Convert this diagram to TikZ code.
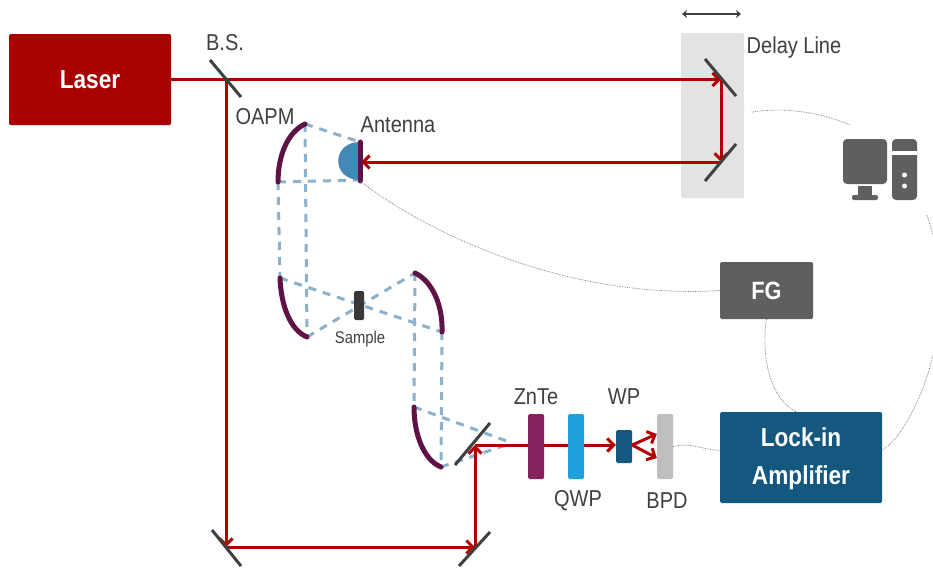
\documentclass[tikz,border=0pt]{standalone}
\usepackage{fontspec}
\setmainfont{Liberation Sans}[FakeStretch=0.87]
\usetikzlibrary{arrows.meta}
\definecolor{beamred}{HTML}{B00000}
\definecolor{oapmpurple}{HTML}{5E1245}
\definecolor{thzblue}{HTML}{8CB1CC}
\definecolor{labelgray}{HTML}{404040}
\definecolor{boxblue}{HTML}{14587F}
\definecolor{boxgray}{HTML}{5F5F5F}
\definecolor{zntepurple}{HTML}{85215F}
\definecolor{qwpblue}{HTML}{1F9FDB}
\definecolor{antennablue}{HTML}{4488B8}
\tikzset{
	beam/.style={draw=beamred, line width=3pt, -{Straight Barb[length=6.5pt,width=13pt,line width=3pt]}},
	thz/.style={draw=thzblue, line width=3pt, dash pattern=on 8pt off 7pt},
	oapm/.style={draw=oapmpurple, line width=5pt, line cap=round},
	mirror/.style={draw=labelgray, line width=3pt},
	cable/.style={draw=black!55, line width=0.7pt, densely dotted},
	tag/.style={text=labelgray, inner sep=0pt, font=\fontsize{23}{26}\selectfont},
	element/.style={rounded corners=1.5pt, inner sep=0pt},
	whitebox/.style={rounded corners=1.5pt, inner sep=0pt, text=white, align=center, font=\fontsize{26}{38}\selectfont\bfseries}
}
\begin{document}
\begin{tikzpicture}[x=1pt, y=-1pt]
		%%%%% FRAME %%%%%
		\useasboundingbox (0, 0) rectangle (933, 570);
		\fill[white] (0, 0) rectangle (933, 570);
		
		\coordinate (bs) at (226, 79.5);
		\coordinate (dlup) at (721, 79.5);
		\coordinate (dldown) at (721, 162);
		\coordinate (mleft) at (226, 547);
		\coordinate (mright) at (475, 547);
		\coordinate (bsout) at (475, 445);
		\coordinate (antennatip) at (361, 162);
		\coordinate (a1) at (305, 124);
		\coordinate (a2) at (278, 182);
		\coordinate (b1) at (280, 278);
		\coordinate (b2) at (307, 337);
		\coordinate (c1) at (415, 273);
		\coordinate (c2) at (442, 332);
		\coordinate (d1) at (414, 407);
		\coordinate (d2) at (441, 467);
		\coordinate (focus) at (512, 443);
		
		%%%%% DELAY LINE BOX %%%%%
		\node[element, fill=black!11, minimum width=63pt, minimum height=165pt] (delay) at (712.5, 115.5) {};
		\draw[labelgray, line width=2pt, {Stealth[length=5pt,width=8pt]}-{Stealth[length=5pt,width=8pt]}] (682, 14) -- (741, 14);
		
		%%%%% THZ PATH %%%%%
		\draw[thz] (a1) -- (360, 142);
		\draw[thz] (a2) -- (360, 180);
		\draw[thz] (a1) -- (b2);
		\draw[thz] (a2) -- (b1);
		\draw[thz] (b1) -- (c2);
		\draw[thz] (b2) -- (c1);
		\draw[thz] (c1) -- (d1);
		\draw[thz] (c2) -- (d2);
		\draw[thz] (d1) -- (focus);
		\draw[thz] (d2) -- (focus);
		
		\draw[oapm] (a1) .. controls (288, 132) and (278, 155) .. (a2);
		\draw[oapm] (b1) .. controls (281, 305) and (290, 330) .. (b2);
		\draw[oapm] (c1) .. controls (432, 281) and (443, 305) .. (c2);
		\draw[oapm] (d1) .. controls (414, 435) and (424, 460) .. (d2);
		
		%%%%% OPTICAL BEAM %%%%%
		\node[element, fill=beamred!96!black, minimum width=162pt, minimum height=91pt, text=white, font=\fontsize{26}{30}\selectfont\bfseries] (laser) at (90, 79.5) {Laser};
		\draw[beam] (laser.east) -- (dlup);
		\draw[beam] (dlup) -- (dldown);
		\draw[beam] (dldown) -- (antennatip);
		\draw[beam] (bs) -- (mleft);
		\draw[beam] (mleft) -- (mright);
		\draw[beam] (mright) -- (bsout);
		
		\node[element, fill=boxblue, minimum width=16pt, minimum height=33pt] (wp) at (624, 446.5) {};
		\draw[beam] (bsout) -- (wp.west |- bsout);
		\node[element, fill=black!25, minimum width=16pt, minimum height=65pt] (bpd) at (665, 446.5) {};
		\draw[beam] (wp.east |- bsout) -- ([yshift=-11.5pt]bpd.west);
		\draw[beam] (wp.east |- bsout) -- ([yshift=12.5pt]bpd.west);
		\node[element, fill=zntepurple, minimum width=16pt, minimum height=65pt] (znte) at (536, 446.5) {};
		\node[element, fill=qwpblue, minimum width=16pt, minimum height=65pt] (qwp) at (576, 446.5) {};
		
		%%%%% MIRRORS %%%%%
		\draw[mirror] (210, 60) -- (241, 97);
		\draw[mirror] (705, 59) -- (736, 96);
		\draw[mirror] (705, 181) -- (736, 144);
		\draw[mirror] (212, 530) -- (241, 566);
		\draw[mirror] (459, 566) -- (490, 532);
		\draw[mirror] (455, 465) -- (490, 423);
		
		%%%%% ANTENNA AND SAMPLE %%%%%
		\fill[antennablue] (360, 142) .. controls (331, 142) and (331, 180) .. (360, 180) -- cycle;
		\draw[oapm] (360, 142) -- (360, 181);
		\node[element, fill=black!78, minimum width=10pt, minimum height=29pt] (sample) at (359, 305.5) {};
		
		%%%%% BOXES %%%%%
		\node[whitebox, fill=boxgray, minimum width=93pt, minimum height=57pt, font=\fontsize{25}{30}\selectfont\bfseries] (fg) at (766.5, 290.5) {FG};
		\node[whitebox, fill=boxblue, minimum width=162pt, minimum height=91pt] (lockin) at (801, 457.5) {};
		\node[whitebox] (lockintext) at (801, 459) {Lock-in\\Amplifier};
		
		%%%%% COMPUTER %%%%%
		\fill[boxgray, rounded corners=4pt] (843, 139) rectangle (887, 184);
		\fill[boxgray] (858, 186) rectangle (872, 195);
		\fill[boxgray, rounded corners=2pt] (852, 195) rectangle (878, 200);
		\fill[boxgray, rounded corners=4pt] (892, 139) rectangle (917, 200);
		\fill[white] (892, 151) rectangle (917, 155);
		\fill[white] (904.5, 175) circle (2.5);
		\fill[white] (904.5, 186) circle (2.5);
		
		\coordinate (pcin) at (752, 112);
		\coordinate (pcout) at (850, 125);
		\coordinate (rimup) at (927, 215);
		\coordinate (rimdown) at (933, 355);
		
		%%%%% CABLES %%%%%
		\draw[cable] (360, 181) .. controls (430, 235) and (570, 300) .. (fg.west);
		\draw[cable] (fg.south) .. controls (762, 345) and (765, 395) .. ([xshift=-5pt]lockin.north);
		\draw[cable] (bpd.east) .. controls (690, 442) and (705, 450) .. ([yshift=7pt]lockin.west);
		\draw[cable] (pcin) .. controls (785, 107) and (820, 112) .. (pcout);
		\draw[cable] (rimup) -- (933, 235);
		\draw[cable] (rimdown) .. controls (925, 390) and (905, 435) .. ([yshift=7pt]lockin.east);
		
		%%%%% LABELS %%%%%
		\node[tag] (bslabel) at (225, 43) {B.S.};
		\node[tag] (oapmlabel) at (265, 117) {OAPM};
		\node[tag] (antennalabel) at (398, 125) {Antenna};
		\node[tag] (delaylabel) at (794, 48) {Delay Line};
		\node[tag, font=\fontsize{17}{20}\selectfont] (samplelabel) at (360, 339) {Sample};
		\node[tag] (zntelabel) at (536, 397) {ZnTe};
		\node[tag] (wplabel) at (624, 397) {WP};
		\node[tag] (qwplabel) at (578, 501) {QWP};
		\node[tag] (bpdlabel) at (667, 501) {BPD};
\end{tikzpicture}
\end{document}
